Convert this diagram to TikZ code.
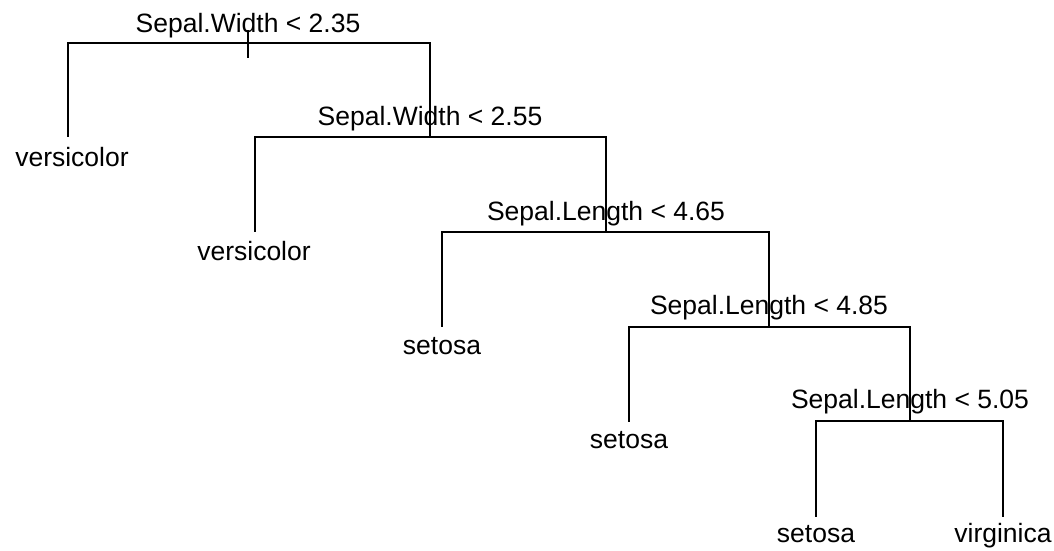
\documentclass[tikz,border=0pt]{standalone}
\usepackage{fontspec}
\setmainfont{Liberation Sans}
\usetikzlibrary{positioning}

\begin{document}
\begin{tikzpicture}[x=1pt, y=-1pt, line width=2pt,
  font=\fontsize{26.5}{30}\selectfont,
  split/.style={anchor=base, inner sep=0pt},
  leaf/.style={anchor=base, inner sep=0pt}]
  \useasboundingbox (0,0) rectangle (1054,550);
  % split points and leaf ends
  \coordinate (s1) at (248,43);
  \coordinate (s2) at (430,137);
  \coordinate (s3) at (606,232);
  \coordinate (s4) at (769,327);
  \coordinate (s5) at (910,421);
  \coordinate (l1) at (68,137);
  \coordinate (l2) at (255,232);
  \coordinate (l3) at (442,327);
  \coordinate (l4) at (629,422);
  \coordinate (l5) at (816,517);
  \coordinate (l6) at (1003,517);
  \coordinate (rtop) at (248,30);
  \coordinate (rbot) at (248,58);
  % branches
  \draw (rtop) -- (rbot);
  \draw (s1) -| (l1); \draw (s1) -| (s2);
  \draw (s2) -| (l2); \draw (s2) -| (s3);
  \draw (s3) -| (l3); \draw (s3) -| (s4);
  \draw (s4) -| (l4); \draw (s4) -| (s5);
  \draw (s5) -| (l5); \draw (s5) -| (l6);
  % split labels
  \node[split] (t1) at (248,32) {Sepal.Width < 2.35};
  \node[split] (t2) at (430,125) {Sepal.Width < 2.55};
  \node[split] (t3) at (606,220) {Sepal.Length < 4.65};
  \node[split] (t4) at (769,314) {Sepal.Length < 4.85};
  \node[split] (t5) at (910,408) {Sepal.Length < 5.05};
  % leaf labels
  \node[leaf] (v1) at (72,166) {versicolor};
  \node[leaf] (v2) at (254,260) {versicolor};
  \node[leaf] (e1) at (442,354) {setosa};
  \node[leaf] (e2) at (629,448) {setosa};
  \node[leaf] (e3) at (816,542) {setosa};
  \node[leaf] (g1) at (1003,542) {virginica};
\end{tikzpicture}
\end{document}
